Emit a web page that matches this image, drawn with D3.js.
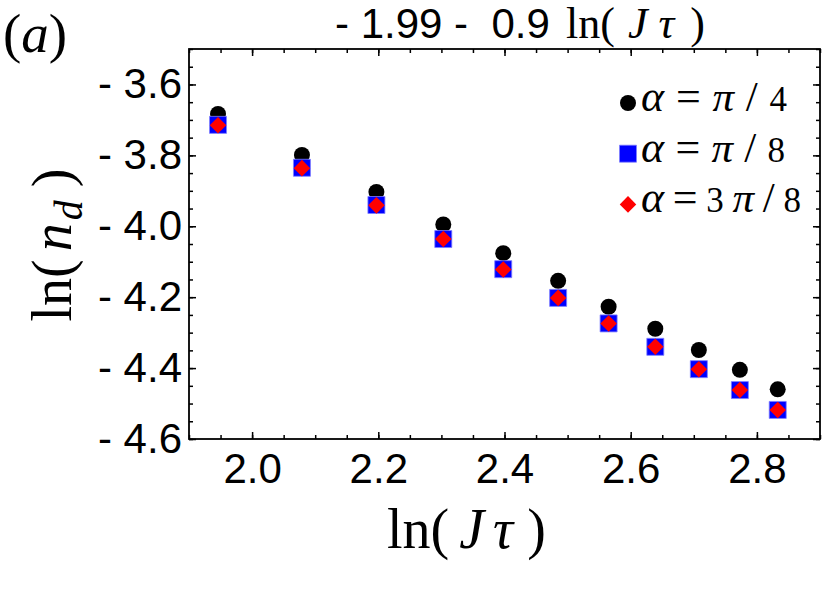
<!DOCTYPE html>
<html>
<head>
<meta charset="utf-8">
<title>ln(n_d) versus ln(J tau)</title>
<style>
body {margin: 0; background: #fff;}
.tick text {font-family: "Liberation Sans", Arial, sans-serif; font-size: 42px; fill: #000;}
.tick line {stroke: #000; stroke-width: 1.5;}
.math {font-family: "Liberation Serif", "Times New Roman", serif; fill: #000;}
.sans {font-family: "Liberation Sans", Arial, sans-serif; fill: #000;}
</style>
</head>
<body>
<div id="chart"></div>
<script src="https://cdn.jsdelivr.net/npm/d3@7/dist/d3.min.js"></script>
<script>
// values
var lnJtau    = [1.946, 2.079, 2.197, 2.303, 2.398, 2.485, 2.565, 2.639, 2.708, 2.773, 2.833];
var alphaPi4  = [-3.683, -3.799, -3.903, -3.995, -4.076, -4.154, -4.227, -4.289, -4.349, -4.405, -4.460];
var alphaPi8  = [-3.714, -3.835, -3.940, -4.036, -4.121, -4.202, -4.274, -4.340, -4.403, -4.462, -4.518];
var alpha3Pi8 = [-3.715, -3.836, -3.941, -4.036, -4.122, -4.202, -4.274, -4.340, -4.403, -4.462, -4.518];
var xTicks = [2.0, 2.2, 2.4, 2.6, 2.8];
var yTicks = [-3.6, -3.8, -4.0, -4.2, -4.4, -4.6];
var legendLabels = ["π/4", "π/8", "3π/8"];

(function(d3) {
	var width = 825, height = 596;
	var left = 189, top = 49, right = 820, bottom = 439;

	var svg = d3.select('#chart')
		.append('svg')
		.attr('width', width)
		.attr('height', height);

	var x = d3.scaleLinear().domain([1.9, 2.9]).range([left, right]);
	var y = d3.scaleLinear().domain([-4.6, -3.5]).range([bottom, top]);

	var xMinor = d3.range(1.9, 2.9001, 0.05).map(function(d) { return +d.toFixed(2); });
	var yMinor = d3.range(-4.6, -3.4999, 0.05).map(function(d) { return +d.toFixed(2); });
	var yFmt = function(d) { return (d < 0 ? '- ' : '') + Math.abs(d).toFixed(1); };

	function ticks(axis, tx, ty, vals, size, labels) {
		var g = svg.append('g')
			.attr('transform', 'translate(' + tx + ',' + ty + ')')
			.call(axis.tickValues(vals).tickSize(size).tickFormat(labels));
		g.select('.domain').remove();
		return g;
	}
	var none = function() { return ''; };

	// minor ticks, all four sides, inward
	ticks(d3.axisBottom(x), 0, bottom, xMinor, -4, none);
	ticks(d3.axisTop(x), 0, top, xMinor, -4, none);
	ticks(d3.axisLeft(y), left, 0, yMinor, -4, none);
	ticks(d3.axisRight(y), right, 0, yMinor, -4, none);

	// major ticks
	ticks(d3.axisBottom(x).tickPadding(14), 0, bottom, xTicks, -7, d3.format('.1f'));
	ticks(d3.axisTop(x), 0, top, xTicks, -7, none);
	ticks(d3.axisLeft(y).tickPadding(7), left, 0, yTicks, -7, yFmt);
	ticks(d3.axisRight(y), right, 0, yTicks, -7, none);

	svg.append('rect')
		.attr('x', left).attr('y', top)
		.attr('width', right - left).attr('height', bottom - top)
		.attr('fill', 'none').attr('stroke', '#000').attr('stroke-width', 1.8);

	var circle = d3.symbol(d3.symbolCircle, 201);
	var square = d3.symbol(d3.symbolSquare, 289);
	var diamond = d3.symbol(d3.symbolSquare, 137);

	var series = [
		{vals: alphaPi4, path: circle, fill: '#000', stroke: 'none', rot: 0},
		{vals: alphaPi8, path: square, fill: '#0000ff', stroke: '#7f7fff', rot: 0},
		{vals: alpha3Pi8, path: diamond, fill: '#ff0000', stroke: 'none', rot: 45}
	];

	series.forEach(function(s) {
		svg.append('g').selectAll('path')
			.data(s.vals)
			.enter()
			.append('path')
			.attr('d', s.path)
			.attr('transform', function(d, i) {
				return 'translate(' + x(lnJtau[i]) + ',' + y(d) + ') rotate(' + s.rot + ')';
			})
			.attr('fill', s.fill)
			.attr('stroke', s.stroke)
			.attr('stroke-width', 0.8);
	});

	// legend
	var legendX = 628, legendY = 103, legendStep = 50.7;
	var legendWidths = [146, 144, 160];
	var legend = svg.selectAll('.legend')
		.data(legendLabels)
		.enter()
		.append('g')
		.attr('class', 'legend')
		.attr('transform', function(d, i) {
			return 'translate(' + legendX + ',' + (legendY + i * legendStep) + ')';
		});

	legend.append('path')
		.attr('d', function(d, i) { return series[i].path(); })
		.attr('transform', function(d, i) { return 'rotate(' + series[i].rot + ')'; })
		.attr('fill', function(d, i) { return series[i].fill; })
		.attr('stroke', function(d, i) { return series[i].stroke; })
		.attr('stroke-width', 0.8);

	legend.each(function(d, i) {
		var t = d3.select(this).append('text')
			.attr('class', 'math')
			.attr('x', 13)
			.attr('y', 8)
			.attr('textLength', legendWidths[i])
			.attr('lengthAdjust', 'spacing');
		t.append('tspan').attr('font-size', 44).attr('font-style', 'italic').text('α');
		t.append('tspan').attr('font-size', 44).text('=');
		d.split('').forEach(function(c) {
			var digit = /[0-9]/.test(c);
			t.append('tspan')
				.attr('font-size', digit ? 35 : 43)
				.attr('font-style', c === 'π' ? 'italic' : null)
				.text(c);
		});
	});

	// title
	svg.append('text')
		.attr('class', 'sans')
		.attr('x', 335).attr('y', 38)
		.attr('font-size', 42)
		.style('white-space', 'pre')
		.text('- 1.99 -  0.9');
	var tt = svg.append('text')
		.attr('class', 'math')
		.attr('x', 566).attr('y', 38)
		.attr('font-size', 44);
	tt.append('tspan').text('ln(');
	tt.append('tspan').attr('dx', 13).attr('font-style', 'italic').text('J');
	tt.append('tspan').attr('dx', 11).attr('font-style', 'italic').text('τ');
	tt.append('tspan').attr('dx', 16).text(')');

	// panel letter
	var pa = svg.append('text')
		.attr('class', 'math')
		.attr('x', 3).attr('y', 52)
		.attr('font-size', 55);
	pa.append('tspan').text('(');
	pa.append('tspan').attr('font-style', 'italic').text('a');
	pa.append('tspan').text(')');

	// x label
	var xl = svg.append('text')
		.attr('class', 'math')
		.attr('x', 387).attr('y', 548)
		.attr('font-size', 56);
	xl.append('tspan').text('ln(');
	xl.append('tspan').attr('dx', 10).attr('font-style', 'italic').text('J');
	xl.append('tspan').attr('dx', 9).attr('font-style', 'italic').text('τ');
	xl.append('tspan').attr('dx', 14).text(')');

	// y label
	var yl = svg.append('text')
		.attr('class', 'math')
		.attr('transform', 'translate(71,245) rotate(-90)')
		.attr('text-anchor', 'middle')
		.attr('font-size', 56);
	yl.append('tspan').text('ln(');
	yl.append('tspan').attr('dx', 8).attr('font-style', 'italic').text('n');
	yl.append('tspan').attr('dx', 3).attr('font-style', 'italic').attr('font-size', 40).attr('dy', 11).text('d');
	yl.append('tspan').attr('dx', 13).attr('dy', -11).text(')');
})(window.d3);
</script>
</body>
</html>
